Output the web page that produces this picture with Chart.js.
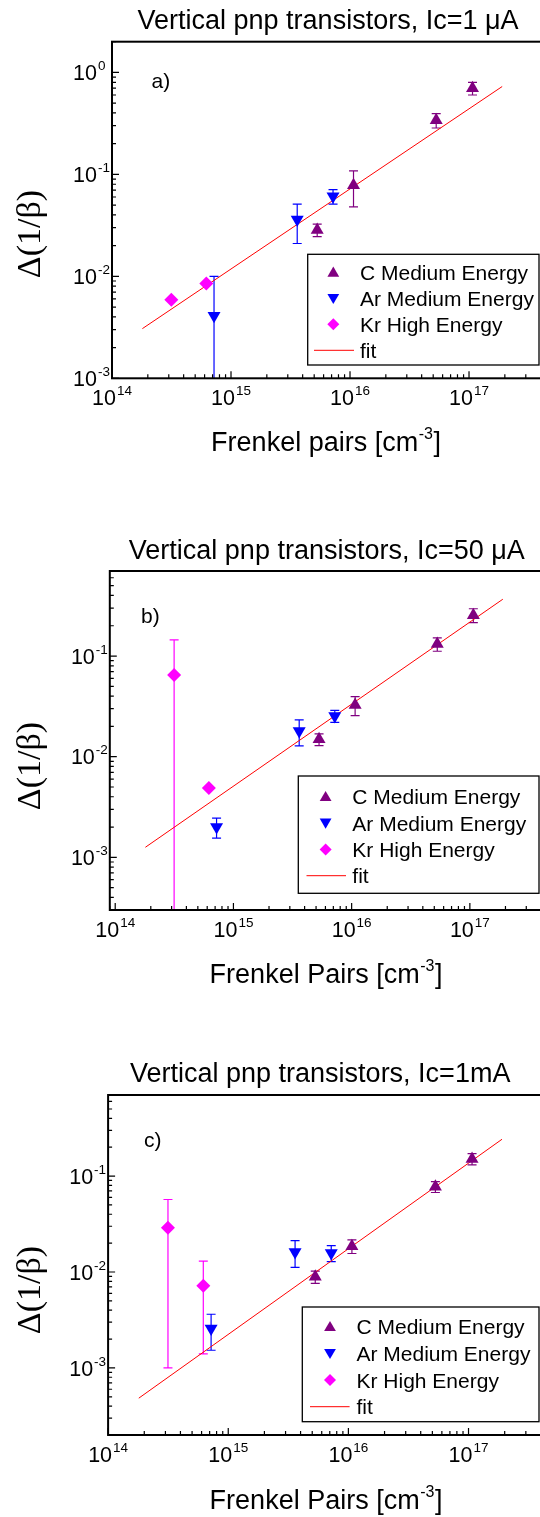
<!DOCTYPE html>
<html><head><meta charset="utf-8">
<script src="https://cdn.jsdelivr.net/npm/chart.js@4.4.1/dist/chart.umd.min.js"></script>
<style>
html,body{margin:0;padding:0;background:#fff;overflow:hidden;width:540px;height:1517px;position:relative;}
.wrap{position:absolute;left:0;width:560px;}
canvas{display:block;}
</style></head><body>
<div class="wrap" style="top:0;height:500px"><canvas id="ca" width="560" height="500"></canvas></div>
<div class="wrap" style="top:500px;height:500px"><canvas id="cb" width="560" height="500"></canvas></div>
<div class="wrap" style="top:1000px;height:517px"><canvas id="cc" width="560" height="517"></canvas></div>
<script>
// ---------- data ----------
const xTickExp = [14, 15, 16, 17];
const yTickExpA = [0, -1, -2, -3];
const yTickExpB = [-1, -2, -3];
const yTickExpC = [-1, -2, -3];

const xC = [5.3e15, 1.07e16, 5.3e16, 1.07e17];
const xAr = [7.2e14, 3.6e15, 7.2e15];
const xKr = [3.15e14, 6.2e14];
const xFit = [1.8e14, 1.9e17];

// panel a  (Ic = 1 uA)
const yC_a = [2.85e-2, 7.8e-2, 0.34, 0.70];
const errC_a = [4e-3, 3e-2, 0.055, 0.1];
const yAr_a = [4.1e-3, 3.6e-2, 6.1e-2];
const errAr_a = [5.9e-3, 1.5e-2, 1.0e-2];
const yKr_a = [5.9e-3, 8.5e-3];
const errKr_a = [0, 0];
const yFit_a = [3.07e-3, 0.727];

// panel b  (Ic = 50 uA)
const yC_b = [1.49e-2, 3.26e-2, 0.1316, 0.255];
const errC_b = [2e-3, 7e-3, 0.02, 0.04];
const yAr_b = [2.0e-3, 1.8e-2, 2.54e-2];
const errAr_b = [4.5e-4, 5.2e-3, 3.5e-3];
const yKr_b = [6.5e-2, 4.9e-3];
const errKr_b = [8e-2, 0];
const yFit_b = [1.26e-3, 0.367];

// panel c  (Ic = 1 mA)
const yC_c = [8.9e-3, 1.86e-2, 7.74e-2, 0.151];
const errC_c = [1.3e-3, 3e-3, 1e-2, 2e-2];
const yAr_c = [2.58e-3, 1.62e-2, 1.58e-2];
const errAr_c = [1.05e-3, 5e-3, 3e-3];
const yKr_c = [2.9e-2, 7.2e-3];
const errKr_c = [2.8e-2, 5.8e-3];
const yFit_c = [4.84e-4, 0.242];

const seriesNames = ['C Medium Energy', 'Ar Medium Energy', 'Kr High Energy', 'fit'];

// ---------- styling ----------
const PURPLE = '#800080', BLUE = '#0000FF', MAGENTA = '#FF00FF', RED = '#FF0000';
const SANS = '"Liberation Sans", Arial, sans-serif';
const SERIF = '"Liberation Serif", "Times New Roman", serif';

function pts(xs, ys, es) { return xs.map((x, i) => ({x: x, y: ys[i], e: es ? es[i] : 0})); }

const errorBars = {
  id: 'errorBars',
  beforeDatasetsDraw(chart) {
    const ctx = chart.ctx, a = chart.chartArea, sx = chart.scales.x, sy = chart.scales.y;
    ctx.save();
    ctx.beginPath(); ctx.rect(a.left, a.top, a.right - a.left, a.bottom - a.top); ctx.clip();
    chart.data.datasets.forEach(ds => {
      if (!ds.errorBars) return;
      ctx.strokeStyle = ds.borderColor; ctx.lineWidth = 1.2;
      ds.data.forEach(p => {
        if (!p.e) return;
        const px = sx.getPixelForValue(p.x);
        const top = sy.getPixelForValue(p.y + p.e);
        const low = p.y - p.e;
        const bot = low > 0 ? sy.getPixelForValue(low) : a.bottom + 10;
        ctx.beginPath();
        ctx.moveTo(px, top); ctx.lineTo(px, bot);
        ctx.moveTo(px - 4.5, top); ctx.lineTo(px + 4.5, top);
        if (low > 0) { ctx.moveTo(px - 4.5, bot); ctx.lineTo(px + 4.5, bot); }
        ctx.stroke();
      });
    });
    ctx.restore();
  }
};

function symbol(ctx, kind, x, y, r, color) {
  ctx.fillStyle = color;
  ctx.beginPath();
  if (kind === 'up') {
    ctx.moveTo(x, y - r); ctx.lineTo(x + r * 0.866, y + r * 0.5); ctx.lineTo(x - r * 0.866, y + r * 0.5);
  } else if (kind === 'down') {
    ctx.moveTo(x, y + r); ctx.lineTo(x + r * 0.866, y - r * 0.5); ctx.lineTo(x - r * 0.866, y - r * 0.5);
  } else {
    ctx.moveTo(x, y - r); ctx.lineTo(x + r, y); ctx.lineTo(x, y + r); ctx.lineTo(x - r, y);
  }
  ctx.closePath(); ctx.fill();
}

function decor(P) {
  return {
    id: 'decor',
    afterDraw(chart) {
      const ctx = chart.ctx, a = chart.chartArea, sx = chart.scales.x, sy = chart.scales.y;
      ctx.save();
      // frame
      ctx.strokeStyle = '#000'; ctx.lineWidth = 2;
      ctx.strokeRect(a.left, a.top, a.right - a.left, a.bottom - a.top);
      // ticks (inside)
      ctx.lineWidth = 1.2;
      ctx.beginPath();
      for (let e = 13; e <= 18; e++) for (let m = 1; m <= 9; m++) {
        const v = m * Math.pow(10, e);
        if (v < sx.min * 0.999 || v > sx.max * 1.001) continue;
        const px = sx.getPixelForValue(v);
        const L = m === 1 ? 7 : 4;
        ctx.moveTo(px, a.bottom); ctx.lineTo(px, a.bottom - L);
      }
      for (let e = -5; e <= 1; e++) for (let m = 1; m <= 9; m++) {
        const v = m * Math.pow(10, e);
        if (v < sy.min * 0.999 || v > sy.max * 1.001) continue;
        const py = sy.getPixelForValue(v);
        const L = m === 1 ? 7 : 4;
        ctx.moveTo(a.left, py); ctx.lineTo(a.left + L, py);
      }
      ctx.stroke();

      // tick labels
      const baseF = '21.5px ' + SANS, supF = '13.5px ' + SANS;
      ctx.fillStyle = '#000'; ctx.textAlign = 'left'; ctx.textBaseline = 'alphabetic';
      function pow10(exp, x, y, mode) {
        ctx.font = baseF; const wb = ctx.measureText('10').width;
        const es = String(exp);
        ctx.font = supF; const we = ctx.measureText(es).width;
        const xb = mode === 'center' ? x - (wb + 1 + we) / 2 : x - wb;
        ctx.font = baseF; ctx.fillText('10', xb, y);
        ctx.font = supF; ctx.fillText(es, xb + wb + 1, y - 10);
      }
      xTickExp.forEach(e => pow10(e, sx.getPixelForValue(Math.pow(10, e)), a.bottom + 26.7, 'center'));
      P.yTicks.forEach(e => pow10(e, a.left - 15, sy.getPixelForValue(Math.pow(10, e)) + 7.6, 'right'));

      // title
      ctx.font = '27px ' + SANS; ctx.textAlign = 'center';
      ctx.fillText(P.title, P.titleX, P.titleY);
      // panel letter
      ctx.font = '21px ' + SANS; ctx.textAlign = 'left';
      ctx.fillText(P.letter, P.letterX, P.letterY);
      // x axis title with superscript
      const mainT = P.xTitle, supT = '-3';
      ctx.font = '27px ' + SANS; const w1 = ctx.measureText(mainT).width; const w3 = ctx.measureText(']').width;
      ctx.font = '16px ' + SANS; const w2 = ctx.measureText(supT).width;
      let xs = P.xTitleX - (w1 + w2 + w3 + 1) / 2;
      ctx.font = '27px ' + SANS; ctx.fillText(mainT, xs, P.xTitleY);
      ctx.font = '16px ' + SANS; ctx.fillText(supT, xs + w1 + 0.5, P.xTitleY - 12);
      ctx.font = '27px ' + SANS; ctx.fillText(']', xs + w1 + w2 + 1, P.xTitleY);
      // y axis title
      ctx.save();
      ctx.translate(P.yTitleX, P.yTitleY); ctx.rotate(-Math.PI / 2);
      ctx.font = '34px ' + SERIF; ctx.textAlign = 'center';
      ctx.fillText('\u0394(1/\u03B2)', 0, 0);
      ctx.restore();

      // legend
      const L = P.legend;
      ctx.fillStyle = '#fff';
      ctx.fillRect(L.box[0], L.box[1], L.box[2] - L.box[0], L.box[3] - L.box[1]);
      ctx.strokeStyle = '#000'; ctx.lineWidth = 1.3;
      ctx.strokeRect(L.box[0], L.box[1], L.box[2] - L.box[0], L.box[3] - L.box[1]);
      symbol(ctx, 'up', L.symX, L.rows[0] + 1, 6.8, PURPLE);
      symbol(ctx, 'down', L.symX, L.rows[1] - 1, 6.8, BLUE);
      symbol(ctx, 'diamond', L.symX, L.rows[2], 6, MAGENTA);
      ctx.strokeStyle = RED; ctx.lineWidth = 1;
      ctx.beginPath(); ctx.moveTo(L.fit[0], L.rows[3]); ctx.lineTo(L.fit[1], L.rows[3]); ctx.stroke();
      ctx.fillStyle = '#000'; ctx.font = '21px ' + SANS; ctx.textAlign = 'left';
      seriesNames.forEach((n, i) => ctx.fillText(n, L.textX, L.rows[i] + 7.5));
      ctx.restore();
    }
  };
}

function makeChart(id, D, P) {
  return new Chart(document.getElementById(id), {
    type: 'scatter',
    data: { datasets: [
      {label: seriesNames[0], data: pts(xC, D.yC, D.eC), pointStyle: 'triangle', pointRadius: 7.5,
       backgroundColor: PURPLE, borderColor: PURPLE, borderWidth: 0, errorBars: true},
      {label: seriesNames[1], data: pts(xAr, D.yAr, D.eAr), pointStyle: 'triangle', rotation: 180, pointRotation: 180, pointRadius: 7.5,
       backgroundColor: BLUE, borderColor: BLUE, borderWidth: 0, errorBars: true},
      {label: seriesNames[2], data: pts(xKr, D.yKr, D.eKr), pointStyle: 'rectRot', pointRadius: 7,
       backgroundColor: MAGENTA, borderColor: MAGENTA, borderWidth: 0, errorBars: true},
      {label: seriesNames[3], type: 'line', data: pts(xFit, D.yFit), borderColor: RED, borderWidth: 1,
       pointRadius: 0, fill: false, tension: 0, showLine: true}
    ]},
    options: {
      responsive: false, animation: false, devicePixelRatio: 1, events: [],
      layout: {padding: P.pad},
      plugins: {legend: {display: false}, tooltip: {enabled: false}, title: {display: false}},
      scales: {
        x: {type: 'logarithmic', min: P.xMin, max: P.xMax, display: false},
        y: {type: 'logarithmic', min: P.yMin, max: P.yMax, display: false}
      }
    },
    plugins: [errorBars, decor(P)]
  });
}

makeChart('ca',
  {yC: yC_a, eC: errC_a, yAr: yAr_a, eAr: errAr_a, yKr: yKr_a, eKr: errKr_a, yFit: yFit_a},
  {pad: {left: 112, top: 41.7, right: 7.8, bottom: 121.7}, xMin: 1e14, xMax: 5e17, yMin: 1e-3, yMax: 2,
   yTicks: yTickExpA, title: 'Vertical pnp transistors, Ic=1 \u03BCA', titleX: 328, titleY: 29.3,
   letter: 'a)', letterX: 151.5, letterY: 88.3, xTitle: 'Frenkel pairs [cm', xTitleX: 326, xTitleY: 451,
   yTitleX: 39.5, yTitleY: 234,
   legend: {box: [307.7, 254.3, 539, 365], symX: 333.3, rows: [272.3, 298.3, 324.3, 350.3], textX: 360, fit: [314, 354]}});

makeChart('cb',
  {yC: yC_b, eC: errC_b, yAr: yAr_b, eAr: errAr_b, yKr: yKr_b, eKr: errKr_b, yFit: yFit_b},
  {pad: {left: 109.8, top: 71, right: 5.6, bottom: 90}, xMin: 9e13, xMax: 5e17, yMin: 3e-4, yMax: 0.7,
   yTicks: yTickExpB, title: 'Vertical pnp transistors, Ic=50 \u03BCA', titleX: 326.8, titleY: 59.3,
   letter: 'b)', letterX: 141, letterY: 123.3, xTitle: 'Frenkel Pairs [cm', xTitleX: 326, xTitleY: 482.7,
   yTitleX: 39.5, yTitleY: 266,
   legend: {box: [298.3, 276, 539, 393.3], symX: 325.6, rows: [296.7, 323, 349.5, 375.7], textX: 352.3, fit: [306.5, 346]}});

makeChart('cc',
  {yC: yC_c, eC: errC_c, yAr: yAr_c, eAr: errAr_c, yKr: yKr_c, eKr: errKr_c, yFit: yFit_c},
  {pad: {left: 108.1, top: 95, right: 7.3, bottom: 82}, xMin: 1e14, xMax: 5e17, yMin: 2e-4, yMax: 0.7,
   yTicks: yTickExpC, title: 'Vertical pnp transistors, Ic=1mA', titleX: 320.2, titleY: 81.7,
   letter: 'c)', letterX: 144, letterY: 146.7, xTitle: 'Frenkel Pairs [cm', xTitleX: 326, xTitleY: 508.5,
   yTitleX: 39.5, yTitleY: 290,
   legend: {box: [302.3, 307, 539, 421.7], symX: 330, rows: [326.7, 353.3, 380, 406.7], textX: 356.5, fit: [310, 349.6]}});
</script>
</body></html>
